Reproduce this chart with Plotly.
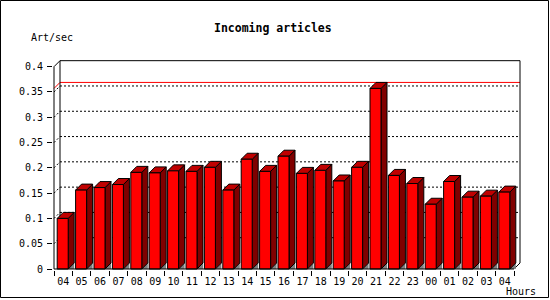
import plotly.graph_objects as go

# ---------------- data ----------------
hours = ["04", "05", "06", "07", "08", "09", "10", "11", "12", "13", "14", "15", "16",
         "17", "18", "19", "20", "21", "22", "23", "00", "01", "02", "03", "04"]
rates = [0.100, 0.156, 0.161, 0.167, 0.191, 0.190, 0.194, 0.193, 0.201, 0.156, 0.217,
         0.193, 0.223, 0.189, 0.195, 0.174, 0.201, 0.357, 0.185, 0.169, 0.128, 0.173,
         0.142, 0.144, 0.152]
y_ticks = [0, 0.05, 0.1, 0.15, 0.2, 0.25, 0.3, 0.35, 0.4]
y_tick_text = ["0", "0.05", "0.1", "0.15", "0.2", "0.25", "0.3", "0.35", "0.4"]
title_text = "Incoming articles"
y_unit = "Art/sec"
x_unit = "Hours"

# ---------------- geometry (pixels) ----------------
W, H = 550, 300
PXX = 18.4        # px per category
PXY = 505.8       # px per unit value
DEPTH = 6         # 3D depth in px
X0PX, Y0PX = 54, 269   # pixel of (x=-0.5, y=0)
L, R, T, B = 53, 521, 60, 270   # plot area pixels

dx = DEPTH / PXX
dy = DEPTH / PXY
n = len(rates)
xr = [-0.5 - (X0PX - L) / PXX, -0.5 + (R - X0PX) / PXX]
yr = [-(B - Y0PX) / PXY, (Y0PX - T) / PXY]


def px_paper_x(px):
    return (px - L) / (R - L)


def px_paper_y(py):
    return (B - py) / (B - T)


front_x, front_y, side_x, side_y, top_x, top_y, tri_x, tri_y = [], [], [], [], [], [], [], []
for i, v in enumerate(rates):
    a = i - 0.5 + 3.2 / PXX
    b = a + 11 / PXX
    front_x += [a, b, b, a, a, None]
    front_y += [0, 0, v, v, 0, None]
    side_x += [b, b + dx, b + dx, b, b, None]
    side_y += [0, dy, v + dy, v, 0, None]
    top_x += [a, b, b + dx, a + dx, a, None]
    top_y += [v, v, v + dy, v + dy, v, None]
    tri_x += [b, b + dx, b + dx, b, None]
    tri_y += [0, 0, dy, 0, None]

fig = go.Figure()


def face(xs, ys, color, lw=1):
    fig.add_trace(go.Scatter(x=xs, y=ys, mode="lines", fill="toself", fillcolor=color,
                             line=dict(color="black", width=lw), hoverinfo="skip",
                             showlegend=False, cliponaxis=False))


face(tri_x, tri_y, "#808080", 0)
face(side_x, side_y, "#800000")
face(top_x, top_y, "#C00000")
face(front_x, front_y, "#FF0000")

shapes = []
bx0, bx1 = -0.5 + dx, n - 0.5 + dx
# back-wall dotted grid and left-wall slants
for v in y_ticks[1:-1]:
    shapes.append(dict(type="line", xref="x", yref="y", x0=bx0, x1=bx1, y0=v + dy, y1=v + dy,
                       line=dict(color="black", width=1, dash="2px,2px"), layer="below"))
    shapes.append(dict(type="line", xref="x", yref="y", x0=-0.5, x1=bx0, y0=v, y1=v + dy,
                       line=dict(color="black", width=1, dash="2px,2px"), layer="below"))
# max line
mx = max(rates)
shapes.append(dict(type="line", xref="x", yref="y", x0=-0.5, x1=bx0, y0=mx, y1=mx + dy,
                   line=dict(color="red", width=1), layer="below"))
shapes.append(dict(type="line", xref="x", yref="y", x0=bx0, x1=bx1, y0=mx + dy, y1=mx + dy,
                   line=dict(color="red", width=1), layer="below"))
top = y_ticks[-1]
# back wall frame
for (xa, ya, xb, yb) in [(bx0, top + dy, bx1, top + dy), (bx0, dy, bx0, top + dy),
                         (bx1, dy, bx1, top + dy), (n - 0.5, 0, bx1, dy)]:
    shapes.append(dict(type="line", xref="x", yref="y", x0=xa, x1=xb, y0=ya, y1=yb,
                       line=dict(color="black", width=1), layer="below"))
# front frame
for (xa, ya, xb, yb) in [(-0.5, 0, -0.5, top), (-0.5, top, bx0, top + dy), (-0.5, 0, n - 0.5, 0)]:
    shapes.append(dict(type="line", xref="x", yref="y", x0=xa, x1=xb, y0=ya, y1=yb,
                       line=dict(color="black", width=1), layer="above"))
# outer border
shapes.append(dict(type="rect", xref="paper", yref="paper",
                   x0=px_paper_x(0.5), x1=px_paper_x(548.5),
                   y0=px_paper_y(297.5), y1=px_paper_y(0.5),
                   line=dict(color="black", width=1), fillcolor="rgba(0,0,0,0)", layer="above"))

mono = "DejaVu Sans Mono"
annotations = [
    dict(text="<b>" + title_text + "</b>", x=px_paper_x(273), y=px_paper_y(28), xref="paper",
         yref="paper", showarrow=False, xanchor="center", yanchor="middle",
         font=dict(family=mono, size=11.5, color="black")),
    dict(text=y_unit, x=px_paper_x(29), y=px_paper_y(38), xref="paper", yref="paper",
         showarrow=False, xanchor="left", yanchor="middle",
         font=dict(family=mono, size=10, color="black")),
    dict(text=x_unit, x=px_paper_x(504), y=px_paper_y(291), xref="paper", yref="paper",
         showarrow=False, xanchor="left", yanchor="middle",
         font=dict(family=mono, size=10, color="black")),
]

fig.update_layout(
    width=W, height=H,
    margin=dict(l=L, r=W - R, t=T, b=H - B, pad=0),
    paper_bgcolor="white", plot_bgcolor="white",
    shapes=shapes, annotations=annotations,
    xaxis=dict(range=xr, showgrid=False, zeroline=False, showline=False,
               tickmode="array", tickvals=list(range(n)), ticktext=hours,
               ticks="outside", ticklen=2, tickcolor="rgba(0,0,0,0)",
               minor=dict(tickmode="array", tickvals=[i - 0.5 for i in range(n + 1)],
                          ticks="outside", ticklen=5, tickcolor="black", tickwidth=1,
                          showgrid=False),
               tickfont=dict(family=mono, size=10, color="black"), fixedrange=True),
    yaxis=dict(range=yr, showgrid=False, zeroline=False, showline=False,
               tickmode="array", tickvals=y_ticks, ticktext=y_tick_text,
               ticks="outside", ticklen=5, tickcolor="black", tickwidth=1,
               ticklabelstandoff=2,
               tickfont=dict(family=mono, size=10, color="black"), fixedrange=True),
)

fig.write_html("out.html")
